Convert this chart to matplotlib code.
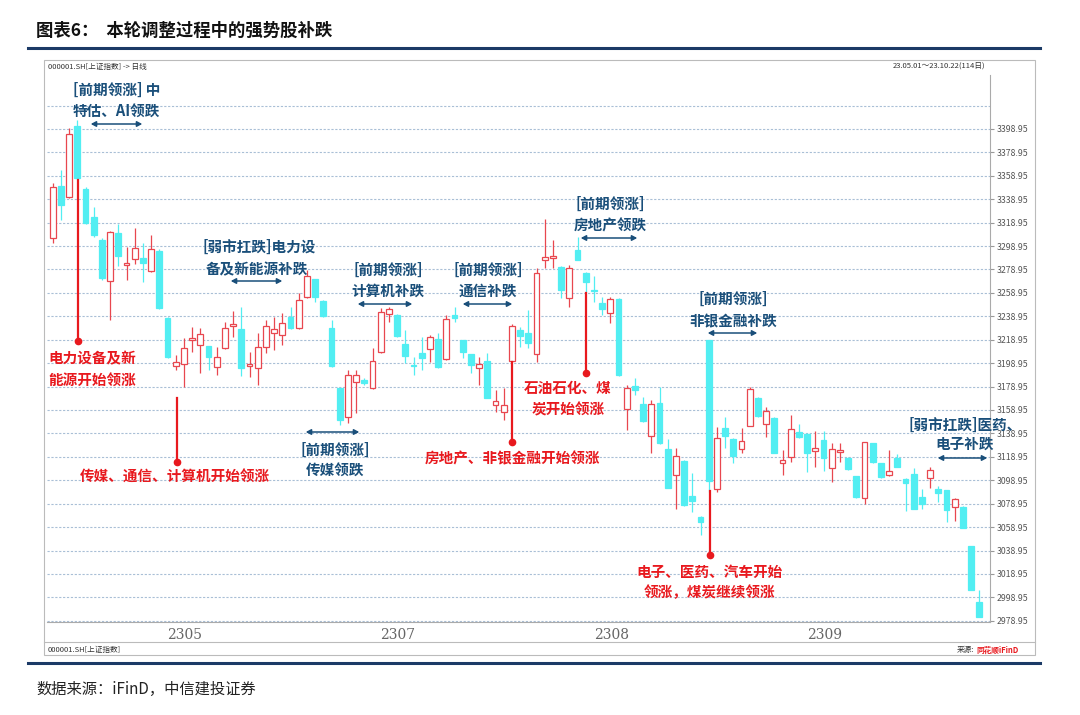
"""Shanghai Composite daily candles, May-Oct 2023, with sector rotation notes."""

import matplotlib
matplotlib.use("Agg")
import matplotlib.pyplot as plt
from matplotlib.lines import Line2D
from matplotlib.patches import Rectangle, FancyArrowPatch

plt.rcParams["font.family"] = ["Noto Sans CJK SC", "DejaVu Sans"]

# OHLC (114 trading days)
opens = [3305.9, 3350.3, 3340.9, 3401.6, 3347.8, 3323.8, 3304.2, 3269.2, 3310.2, 3282.9,
         3288.0, 3288.8, 3277.7, 3294.8, 3237.6, 3196.6, 3198.3, 3218.8, 3214.5, 3213.7,
         3195.8, 3212.0, 3230.8, 3228.2, 3196.6, 3194.9, 3212.8, 3224.8, 3223.1, 3238.4,
         3229.0, 3255.5, 3270.9, 3252.1, 3229.0, 3177.8, 3153.0, 3183.0, 3184.6, 3177.8,
         3208.6, 3241.0, 3240.2, 3215.4, 3197.5, 3207.7, 3211.1, 3219.7, 3202.6, 3240.2,
         3218.8, 3206.9, 3194.9, 3200.9, 3163.3, 3157.3, 3200.9, 3227.3, 3224.8, 3206.9,
         3287.2, 3288.9, 3281.1, 3254.7, 3295.7, 3276.0, 3261.0, 3250.4, 3241.9, 3253.8,
         3159.9, 3179.5, 3164.2, 3136.8, 3165.0, 3125.7, 3103.5, 3115.5, 3085.6, 3067.6,
         3218.8, 3091.6, 3143.7, 3134.3, 3125.7, 3145.4, 3169.3, 3147.1, 3152.2, 3113.8,
         3118.9, 3140.2, 3138.5, 3124.0, 3133.4, 3109.5, 3123.2, 3118.0, 3102.7, 3083.9,
         3130.8, 3113.8, 3103.5, 3118.0, 3100.1, 3104.4, 3084.7, 3100.9, 3091.6, 3090.7,
         3076.2, 3076.2, 3042.9, 2995.1]
closes = [3349.5, 3334.1, 3394.7, 3357.2, 3318.7, 3308.5, 3271.8, 3311.0, 3290.5, 3284.6,
          3297.4, 3284.6, 3296.5, 3246.1, 3204.3, 3200.0, 3212.0, 3220.5, 3223.9, 3204.3,
          3204.3, 3229.0, 3232.5, 3194.9, 3198.3, 3212.8, 3230.8, 3228.2, 3233.3, 3229.0,
          3253.0, 3273.5, 3255.5, 3239.3, 3196.6, 3150.5, 3188.9, 3188.9, 3182.0, 3200.9,
          3242.7, 3245.3, 3222.2, 3205.2, 3196.6, 3203.4, 3221.4, 3195.8, 3236.7, 3237.6,
          3208.6, 3197.5, 3198.3, 3169.3, 3166.7, 3163.3, 3230.8, 3222.2, 3216.2, 3276.0,
          3289.7, 3290.5, 3261.5, 3280.3, 3287.2, 3268.3, 3260.5, 3245.3, 3253.8, 3188.9,
          3177.8, 3176.1, 3149.6, 3164.2, 3130.8, 3092.4, 3119.8, 3077.9, 3081.3, 3063.4,
          3098.4, 3135.1, 3136.8, 3119.8, 3132.5, 3177.0, 3153.9, 3158.2, 3122.3, 3116.3,
          3142.8, 3136.0, 3122.3, 3126.6, 3118.0, 3125.7, 3124.9, 3108.6, 3084.7, 3131.7,
          3114.6, 3101.8, 3106.9, 3110.3, 3096.7, 3074.5, 3078.8, 3107.8, 3088.1, 3073.6,
          3083.0, 3058.3, 3005.3, 2982.3]
highs = [3352.9, 3364.0, 3399.9, 3406.7, 3349.5, 3332.4, 3306.0, 3312.0, 3317.9, 3298.2,
         3314.5, 3301.6, 3308.5, 3296.0, 3238.0, 3206.0, 3220.5, 3229.9, 3229.0, 3214.0,
         3212.8, 3234.2, 3243.6, 3247.0, 3208.6, 3224.8, 3235.9, 3238.4, 3241.9, 3247.0,
         3259.0, 3278.6, 3271.0, 3253.0, 3235.9, 3178.0, 3193.2, 3193.2, 3186.0, 3212.0,
         3246.1, 3247.0, 3241.0, 3227.3, 3204.3, 3221.4, 3223.1, 3224.8, 3240.2, 3247.0,
         3219.0, 3207.0, 3204.3, 3207.7, 3176.1, 3177.8, 3232.0, 3229.9, 3244.4, 3280.3,
         3322.1, 3304.2, 3282.0, 3282.9, 3306.8, 3277.0, 3273.5, 3255.5, 3255.5, 3255.0,
         3180.4, 3186.4, 3170.1, 3167.6, 3178.7, 3134.3, 3126.6, 3116.0, 3105.2, 3068.0,
         3219.0, 3144.5, 3153.0, 3135.0, 3143.7, 3178.7, 3170.0, 3161.6, 3153.0, 3124.9,
         3154.8, 3147.1, 3139.0, 3141.0, 3141.0, 3130.8, 3130.8, 3119.0, 3103.0, 3132.0,
         3131.0, 3114.0, 3124.9, 3121.0, 3101.0, 3109.5, 3091.6, 3110.4, 3094.1, 3091.0,
         3083.9, 3077.0, 3043.0, 3005.3]
lows = [3301.6, 3321.3, 3340.0, 3357.0, 3318.0, 3307.0, 3270.0, 3235.9, 3282.0, 3270.0,
        3283.7, 3268.3, 3277.0, 3245.0, 3203.0, 3193.0, 3178.7, 3208.6, 3190.6, 3193.2,
        3188.9, 3211.0, 3221.4, 3188.0, 3187.2, 3180.4, 3207.7, 3210.3, 3214.5, 3228.0,
        3228.0, 3255.0, 3251.3, 3238.0, 3196.0, 3146.0, 3148.0, 3156.5, 3180.0, 3177.0,
        3208.0, 3234.2, 3221.0, 3199.2, 3188.9, 3193.2, 3200.0, 3195.0, 3202.0, 3234.2,
        3203.4, 3190.6, 3180.4, 3169.0, 3157.3, 3150.5, 3200.0, 3212.8, 3212.0, 3200.0,
        3280.3, 3280.3, 3254.7, 3247.0, 3287.0, 3259.8, 3251.3, 3240.2, 3233.3, 3188.0,
        3141.9, 3171.8, 3149.0, 3122.3, 3130.0, 3092.0, 3074.5, 3077.0, 3071.9, 3052.3,
        3089.0, 3089.0, 3126.6, 3113.8, 3122.3, 3145.0, 3153.0, 3136.0, 3122.0, 3103.5,
        3114.6, 3135.0, 3106.1, 3110.4, 3106.9, 3097.5, 3114.6, 3108.0, 3084.0, 3078.8,
        3114.0, 3101.0, 3103.0, 3110.0, 3072.8, 3074.0, 3074.5, 3092.4, 3080.5, 3063.4,
        3064.2, 3058.0, 3005.0, 2982.0]

grid_levels = [2978.95 + 20 * k for k in range(23)]
price_ticks = grid_levels[:22]
month_labels = ["2305", "2307", "2308", "2309"]
month_pos = [16.1, 42.1, 68.1, 94.1]

W, H = 1080, 715
UP = "#e8474f"
DOWN = "#52eef2"
NAVY = "#1a4f7a"
RED = "#e8191e"


def fx(px):
    return px / W


def fy(py):
    return 1 - py / H


fig = plt.figure(figsize=(W / 100, H / 100), dpi=100)
ax = fig.add_axes([fx(47), fy(622), fx(990 - 47), (622 - 75) / H])

for i, (o, c, h, l) in enumerate(zip(opens, closes, highs, lows)):
    up = c >= o
    col = UP if up else DOWN
    lo, hi = min(o, c), max(o, c)
    ax.vlines(i, l, lo, color=col, lw=0.9, zorder=2)
    ax.vlines(i, hi, h, color=col, lw=0.9, zorder=2)
    ax.add_patch(Rectangle((i - 0.36, lo), 0.72, max(hi - lo, 0.6),
                           facecolor="white" if up else DOWN,
                           edgecolor=col, lw=0.9, zorder=3))

ax.set_xlim(-0.7, 114.3)
ax.set_ylim(2977.9, 3445)
ax.yaxis.tick_right()
ax.set_yticks(price_ticks)
ax.set_yticklabels([f"{v:.2f}" for v in price_ticks], fontsize=6.3, color="#555555")
for v in grid_levels:
    ax.axhline(v, color="#a9bfd6", lw=0.8, ls=(0, (2, 1.5)), zorder=1)
ax.set_xticks(month_pos)
ax.set_xticklabels(month_labels, fontsize=10, color="#666666", family="DejaVu Serif")
ax.tick_params(axis="x", length=0, pad=4)
ax.tick_params(axis="y", length=3, color="#999999", pad=2)
for s in ["top", "left"]:
    ax.spines[s].set_visible(False)
ax.spines["right"].set_color("#aaaaaa")
ax.spines["bottom"].set_color("#aaaaaa")

# title, rules and frame
fig.text(fx(36), fy(31), "图表6：  本轮调整过程中的强势股补跌", fontsize=12.5,
         weight="bold", va="center", color="#111111")
fig.add_artist(Line2D([fx(28), fx(1040)], [fy(48), fy(48)], color="#1b3a66", lw=2.2))
fig.add_artist(Line2D([fx(28), fx(1040)], [fy(663), fy(663)], color="#1b3a66", lw=2.2))
fig.add_artist(Rectangle((fx(44), fy(655)), fx(1035 - 44), (655 - 60) / H,
                         fill=False, ec="#bbbbbb", lw=0.8))
fig.add_artist(Line2D([fx(44), fx(1035)], [fy(642), fy(642)], color="#bbbbbb", lw=0.8))
fig.text(fx(48), fy(67), "000001.SH[上证指数] -> 日线", fontsize=5.5, va="center", color="#333333")
fig.text(fx(985), fy(67), "23.05.01～23.10.22(114日)", fontsize=5.5, va="center",
         ha="right", color="#333333")
fig.text(fx(48), fy(650), "000001.SH[上证指数]", fontsize=5.5, va="center", color="#333333")
fig.text(fx(957), fy(650), "来源:", fontsize=5.5, va="center", color="#333333")
fig.text(fx(976), fy(650), "同花顺iFinD", fontsize=5.5, va="center", color=RED, weight="bold")
fig.text(fx(36), fy(689), "数据来源：iFinD，中信建投证券", fontsize=11, va="center",
         style="italic", color="#222222")

# notes: (x, y, text, colour, ha)
notes = [
    (73, 90, "[前期领涨] 中", NAVY, "left"), (73, 112, "特估、AI领跌", NAVY, "left"),
    (48, 358, "电力设备及新", RED, "left"), (48, 380, "能源开始领涨", RED, "left"),
    (80, 477, "传媒、通信、计算机开始领涨", RED, "left"),
    (202, 247, "[弱市扛跌]电力设", NAVY, "left"), (257, 269, "备及新能源补跌", NAVY, "center"),
    (388, 270, "[前期领涨]", NAVY, "center"), (388, 291, "计算机补跌", NAVY, "center"),
    (488, 270, "[前期领涨]", NAVY, "center"), (488, 291, "通信补跌", NAVY, "center"),
    (335, 450, "[前期领涨]", NAVY, "center"), (335, 471, "传媒领跌", NAVY, "center"),
    (512, 458, "房地产、非银金融开始领涨", RED, "center"),
    (610, 204, "[前期领涨]", NAVY, "center"), (610, 225, "房地产领跌", NAVY, "center"),
    (568, 388, "石油石化、煤", RED, "center"), (568, 410, "炭开始领涨", RED, "center"),
    (733, 299, "[前期领涨]", NAVY, "center"), (733, 321, "非银金融补跌", NAVY, "center"),
    (710, 572, "电子、医药、汽车开始", RED, "center"), (710, 592, "领涨，煤炭继续领涨", RED, "center"),
    (908, 425, "[弱市扛跌]医药、", NAVY, "left"), (965, 444, "电子补跌", NAVY, "center"),
]
for x, y, s, c, ha in notes:
    fig.text(fx(x), fy(y), s, fontsize=10.5, weight="bold", color=c, ha=ha, va="center")

arrows = [(88, 145, 124), (228, 285, 281), (355, 415, 304), (460, 515, 304),
          (303, 362, 432), (578, 640, 238), (705, 760, 333), (935, 990, 458)]
for x0, x1, y in arrows:
    fig.add_artist(FancyArrowPatch(
        (fx(x0), fy(y)), (fx(x1), fy(y)), transform=fig.transFigure,
        arrowstyle="<|-|>,head_length=3,head_width=1.6", color=NAVY, lw=1.1))

markers = [(78, 180, 341), (177, 398, 462), (512, 362, 442), (586, 293, 373), (710, 491, 555)]
for x, y0, y1 in markers:
    fig.add_artist(Line2D([fx(x), fx(x)], [fy(y0), fy(y1)], color=RED, lw=1.6))
    fig.add_artist(Line2D([fx(x)], [fy(y1)], marker="o", ms=4.5, color=RED))

fig.savefig("out.png", dpi=100)
